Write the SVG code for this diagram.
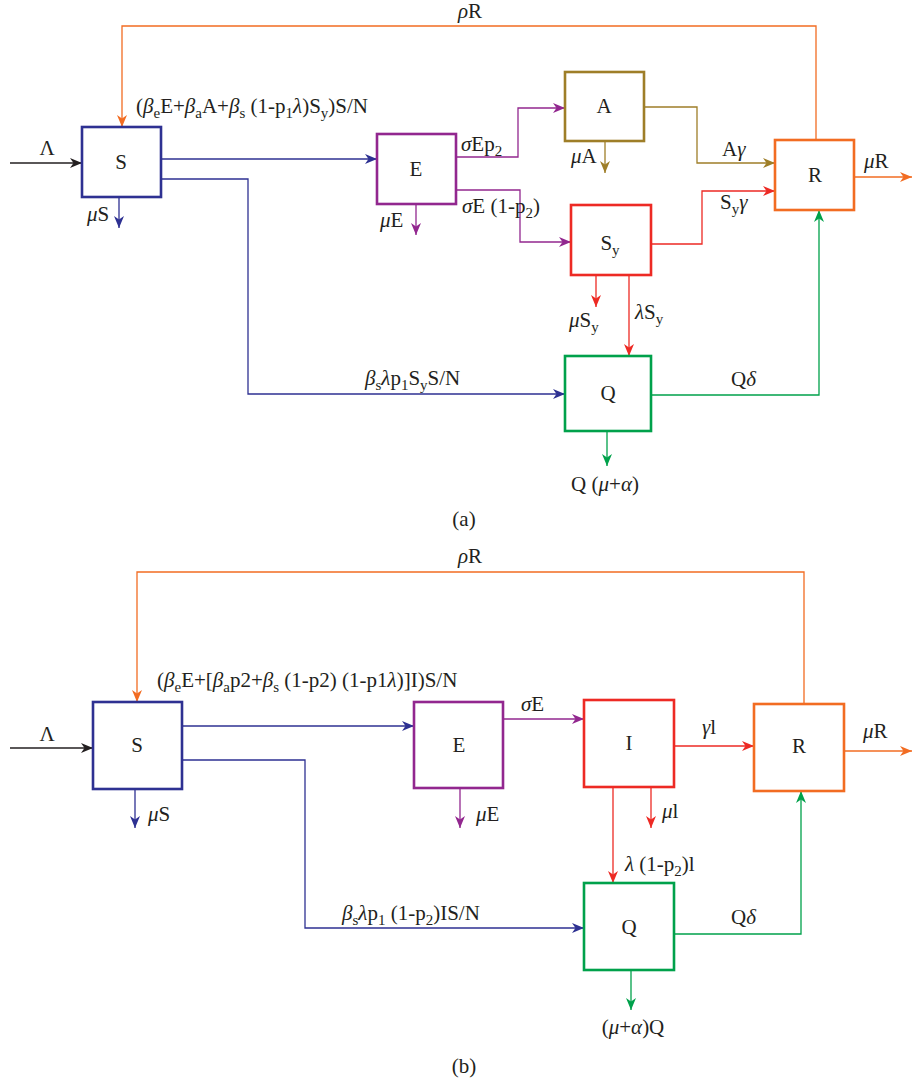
<svg xmlns="http://www.w3.org/2000/svg" width="912" height="1081" viewBox="0 0 912 1081">
<style>
text{font-family:"Liberation Serif","DejaVu Serif",serif;font-size:21px;fill:#231f20}
.m{text-anchor:middle}
.i{font-style:italic}
.sb{font-size:15px}
.box{fill:#fff;stroke-width:2.6}
.c{fill:none;stroke-width:1.3}
.nv{stroke:#2e3192}.pu{stroke:#92278f}.ol{stroke:#9e7e28}.rd{stroke:#ed2a24}.or{stroke:#f26c22}.gr{stroke:#00a14b}.bk{stroke:#231f20}
</style>
<defs>
<marker id="a-bk" viewBox="0 0 12 10" refX="12" refY="5" markerWidth="13" markerHeight="10" markerUnits="userSpaceOnUse" orient="auto"><path d="M0,0 L12,5 L0,10 L3.5,5 z" fill="#231f20"/></marker>
<marker id="a-nv" viewBox="0 0 12 10" refX="12" refY="5" markerWidth="14" markerHeight="10" markerUnits="userSpaceOnUse" orient="auto"><path d="M0,0 L12,5 L0,10 L3.5,5 z" fill="#2e3192"/></marker>
<marker id="a-pu" viewBox="0 0 12 10" refX="12" refY="5" markerWidth="14" markerHeight="10" markerUnits="userSpaceOnUse" orient="auto"><path d="M0,0 L12,5 L0,10 L3.5,5 z" fill="#92278f"/></marker>
<marker id="a-ol" viewBox="0 0 12 10" refX="12" refY="5" markerWidth="14" markerHeight="10" markerUnits="userSpaceOnUse" orient="auto"><path d="M0,0 L12,5 L0,10 L3.5,5 z" fill="#9e7e28"/></marker>
<marker id="a-rd" viewBox="0 0 12 10" refX="12" refY="5" markerWidth="14" markerHeight="10" markerUnits="userSpaceOnUse" orient="auto"><path d="M0,0 L12,5 L0,10 L3.5,5 z" fill="#ed2a24"/></marker>
<marker id="a-or" viewBox="0 0 12 10" refX="12" refY="5" markerWidth="14" markerHeight="10" markerUnits="userSpaceOnUse" orient="auto"><path d="M0,0 L12,5 L0,10 L3.5,5 z" fill="#f26c22"/></marker>
<marker id="a-gr" viewBox="0 0 12 10" refX="12" refY="5" markerWidth="14" markerHeight="10" markerUnits="userSpaceOnUse" orient="auto"><path d="M0,0 L12,5 L0,10 L3.5,5 z" fill="#00a14b"/></marker>
</defs>

<g id="connectors-a">
<path class="c bk" d="M10,163 H82" marker-end="url(#a-bk)"/>
<path class="c or" d="M816,140 V26 H122 V127" marker-end="url(#a-or)"/>
<path class="c nv" d="M161,159 H377" marker-end="url(#a-nv)"/>
<path class="c nv" d="M161,179 H248 V394 H565" marker-end="url(#a-nv)"/>
<path class="c nv" d="M119,197 V228" marker-end="url(#a-nv)"/>
<path class="c pu" d="M416,204 V235" marker-end="url(#a-pu)"/>
<path class="c pu" d="M456,157 H518 V108 H565" marker-end="url(#a-pu)"/>
<path class="c pu" d="M456,190 H520 V242 H571" marker-end="url(#a-pu)"/>
<path class="c ol" d="M605,141 V173" marker-end="url(#a-ol)"/>
<path class="c ol" d="M644,107 H697 V163 H775" marker-end="url(#a-ol)"/>
<path class="c rd" d="M651,244 H702 V191 H775" marker-end="url(#a-rd)"/>
<path class="c rd" d="M596,275 V307" marker-end="url(#a-rd)"/>
<path class="c rd" d="M629,275 V356" marker-end="url(#a-rd)"/>
<path class="c gr" d="M651,395 H819 V210" marker-end="url(#a-gr)"/>
<path class="c gr" d="M607,431 V466" marker-end="url(#a-gr)"/>
<path class="c or" d="M854,177 H912" marker-end="url(#a-or)"/>
</g>

<g id="a-S"><rect class="box nv" x="82" y="127" width="79" height="70"/><text class="m" x="121" y="169">S</text></g>
<g id="a-E"><rect class="box pu" x="377" y="134" width="79" height="70"/><text class="m" x="416" y="176">E</text></g>
<g id="a-A"><rect class="box ol" x="565" y="72" width="79" height="69"/><text class="m" x="604" y="113">A</text></g>
<g id="a-Sy"><rect class="box rd" x="571" y="205" width="80" height="70"/><text class="m" x="610" y="250">S<tspan class="sb" dy="5">y</tspan></text></g>
<g id="a-R"><rect class="box or" x="775" y="140" width="79" height="70"/><text class="m" x="815" y="182">R</text></g>
<g id="a-Q"><rect class="box gr" x="565" y="356" width="86" height="75"/><text class="m" x="608" y="400">Q</text></g>

<g id="labels-a">
<text class="m" x="470" y="18"><tspan class="i">ρ</tspan>R</text>
<text class="m" x="47" y="155">Λ</text>
<text x="136" y="113">(<tspan class="i">β</tspan><tspan class="sb" dy="5">e</tspan><tspan dy="-5">E+</tspan><tspan class="i">β</tspan><tspan class="sb" dy="5">a</tspan><tspan dy="-5">A+</tspan><tspan class="i">β</tspan><tspan class="sb" dy="5">s</tspan><tspan dy="-5"> (1-p</tspan><tspan class="sb" dy="5">1</tspan><tspan class="i" dy="-5">λ</tspan>)S<tspan class="sb" dy="5">y</tspan><tspan dy="-5">)S/N</tspan></text>
<text x="87" y="221"><tspan class="i">μ</tspan>S</text>
<text x="380" y="227"><tspan class="i">μ</tspan>E</text>
<text x="461" y="151"><tspan class="i">σ</tspan>Ep<tspan class="sb" dy="5">2</tspan></text>
<text x="462" y="213"><tspan class="i">σ</tspan>E (1-p<tspan class="sb" dy="5">2</tspan><tspan dy="-5">)</tspan></text>
<text x="571" y="163"><tspan class="i">μ</tspan>A</text>
<text x="722" y="156">A<tspan class="i">γ</tspan></text>
<text x="720" y="209">S<tspan class="sb" dy="5">y</tspan><tspan class="i" dy="-5">γ</tspan></text>
<text x="864" y="168"><tspan class="i">μ</tspan>R</text>
<text x="569" y="327"><tspan class="i">μ</tspan>S<tspan class="sb" dy="5">y</tspan></text>
<text x="635" y="319"><tspan class="i">λ</tspan>S<tspan class="sb" dy="5">y</tspan></text>
<text x="365" y="385"><tspan class="i">β</tspan><tspan class="sb" dy="5">s</tspan><tspan class="i" dy="-5">λ</tspan>p<tspan class="sb" dy="5">1</tspan><tspan dy="-5">S</tspan><tspan class="sb" dy="5">y</tspan><tspan dy="-5">S/N</tspan></text>
<text x="731" y="386">Q<tspan class="i">δ</tspan></text>
<text class="m" x="605" y="491">Q (<tspan class="i">μ</tspan>+<tspan class="i">α</tspan>)</text>
<text class="m" x="464" y="526">(a)</text>
</g>

<g id="connectors-b">
<path class="c bk" d="M10,748 H93" marker-end="url(#a-bk)"/>
<path class="c or" d="M804,704 V572 H137 V702" marker-end="url(#a-or)"/>
<path class="c nv" d="M182,726 H414" marker-end="url(#a-nv)"/>
<path class="c nv" d="M182,760 H305 V928 H584" marker-end="url(#a-nv)"/>
<path class="c nv" d="M135,789 V828" marker-end="url(#a-nv)"/>
<path class="c pu" d="M460,788 V828" marker-end="url(#a-pu)"/>
<path class="c pu" d="M503,719 H584" marker-end="url(#a-pu)"/>
<path class="c rd" d="M674,746 H754" marker-end="url(#a-rd)"/>
<path class="c rd" d="M651,787 V828" marker-end="url(#a-rd)"/>
<path class="c rd" d="M613,787 V883" marker-end="url(#a-rd)"/>
<path class="c gr" d="M674,934 H801 V791" marker-end="url(#a-gr)"/>
<path class="c gr" d="M631,970 V1010" marker-end="url(#a-gr)"/>
<path class="c or" d="M844,751 H912" marker-end="url(#a-or)"/>
</g>

<g id="b-S"><rect class="box nv" x="93" y="702" width="89" height="87"/><text class="m" x="137" y="752">S</text></g>
<g id="b-E"><rect class="box pu" x="414" y="702" width="89" height="86"/><text class="m" x="459" y="752">E</text></g>
<g id="b-I"><rect class="box rd" x="584" y="700" width="90" height="87"/><text class="m" x="629" y="750">I</text></g>
<g id="b-R"><rect class="box or" x="754" y="704" width="90" height="87"/><text class="m" x="799" y="753">R</text></g>
<g id="b-Q"><rect class="box gr" x="584" y="883" width="90" height="87"/><text class="m" x="629" y="934">Q</text></g>

<g id="labels-b">
<text class="m" x="470" y="563"><tspan class="i">ρ</tspan>R</text>
<text x="157" y="687">(<tspan class="i">β</tspan><tspan class="sb" dy="5">e</tspan><tspan dy="-5">E+[</tspan><tspan class="i">β</tspan><tspan class="sb" dy="5">a</tspan><tspan dy="-5">p2+</tspan><tspan class="i">β</tspan><tspan class="sb" dy="5">s</tspan><tspan dy="-5"> (1-p2) (1-p1</tspan><tspan class="i">λ</tspan>)]I)S/N</text>
<text class="m" x="47" y="741">Λ</text>
<text x="148" y="821"><tspan class="i">μ</tspan>S</text>
<text x="476" y="821"><tspan class="i">μ</tspan>E</text>
<text x="521" y="711"><tspan class="i">σ</tspan>E</text>
<text x="702" y="734"><tspan class="i">γ</tspan>l</text>
<text x="863" y="738"><tspan class="i">μ</tspan>R</text>
<text x="662" y="818"><tspan class="i">μ</tspan>l</text>
<text x="625" y="871"><tspan class="i">λ</tspan> (1-p<tspan class="sb" dy="5">2</tspan><tspan dy="-5">)l</tspan></text>
<text x="342" y="920"><tspan class="i">β</tspan><tspan class="sb" dy="5">s</tspan><tspan class="i" dy="-5">λ</tspan>p<tspan class="sb" dy="5">1</tspan><tspan dy="-5"> (1-p</tspan><tspan class="sb" dy="5">2</tspan><tspan dy="-5">)IS/N</tspan></text>
<text x="731" y="924">Q<tspan class="i">δ</tspan></text>
<text class="m" x="633" y="1034">(<tspan class="i">μ</tspan>+<tspan class="i">α</tspan>)Q</text>
<text class="m" x="464" y="1073">(b)</text>
</g>
</svg>
